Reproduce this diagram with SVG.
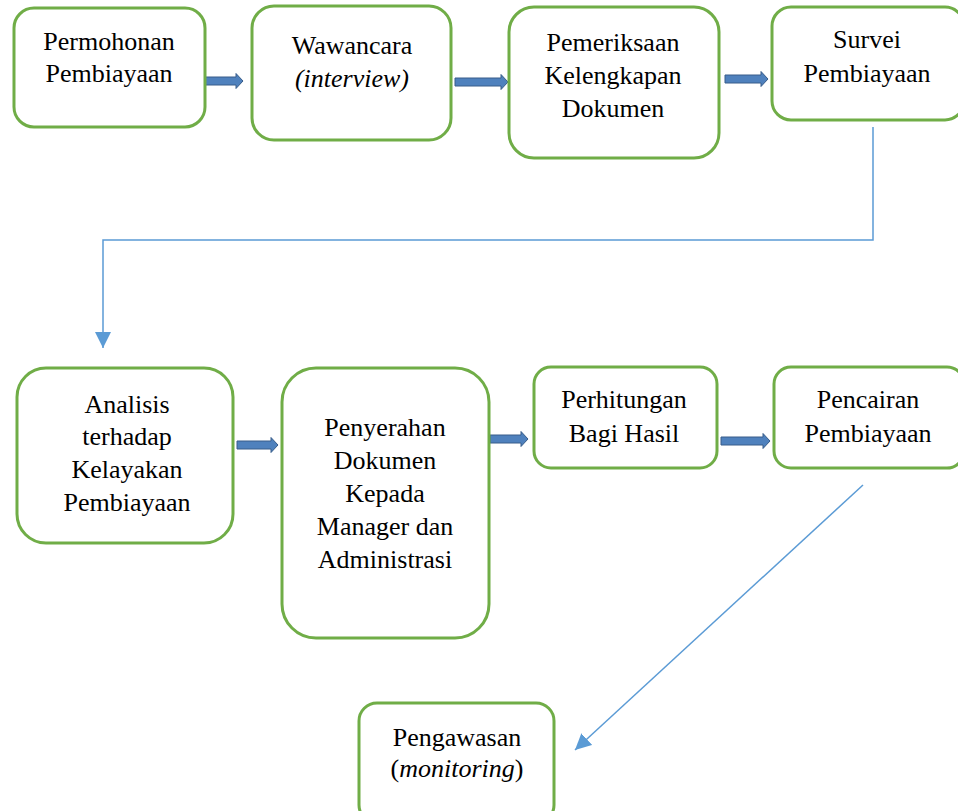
<svg xmlns="http://www.w3.org/2000/svg" width="958" height="811" viewBox="0 0 958 811">
<style>
.box{fill:#ffffff;stroke:#70ad47;stroke-width:3}
.t{font-family:"Liberation Serif","Times New Roman",serif;font-size:26px;fill:#000000;text-anchor:middle}
.i{font-style:italic}
.ba{fill:#4f81bd;stroke:#385d8a;stroke-width:1}
.conn{fill:none;stroke:#5b9bd5;stroke-width:1.5}
</style>
<defs>
<marker id="ah" markerUnits="userSpaceOnUse" markerWidth="16" markerHeight="16" viewBox="0 0 16 16" refX="16" refY="8" orient="auto">
<path d="M0,0 L16,8 L0,16 Z" fill="#5b9bd5"/>
</marker>
</defs>
<rect width="958" height="811" fill="#ffffff"/>
<g id="connectors">
<path class="ba" d="M201,77 L236,77 L236,73.5 L243,81 L236,88.5 L236,85 L201,85 Z"/>
<path class="ba" d="M455,78 L501,78 L501,74.5 L508,82 L501,89.5 L501,86 L455,86 Z"/>
<path class="ba" d="M725,75 L761,75 L761,71.5 L768,79 L761,86.5 L761,83 L725,83 Z"/>
<path class="ba" d="M237,441 L271,441 L271,437.5 L278,445 L271,452.5 L271,449 L237,449 Z"/>
<path class="ba" d="M490,435 L521,435 L521,431.5 L528,439 L521,446.5 L521,443 L490,443 Z"/>
<path class="ba" d="M721,437 L763,437 L763,433.5 L770,441 L763,448.5 L763,445 L721,445 Z"/>
<path class="conn" d="M873,127 L873,240 L103,240 L103,348" marker-end="url(#ah)"/>
<path class="conn" d="M863,485 L575,750" marker-end="url(#ah)"/>
</g>
<g id="n1">
<rect class="box" x="14" y="8" width="191" height="119" rx="20"/>
<text class="t" x="109" y="50">Permohonan</text>
<text class="t" x="109" y="82">Pembiayaan</text>
</g>
<g id="n2">
<rect class="box" x="252" y="6" width="199" height="134" rx="22"/>
<text class="t" x="352" y="54">Wawancara</text>
<text class="t i" x="352" y="87">(interview)</text>
</g>
<g id="n3">
<rect class="box" x="509" y="7" width="210" height="151" rx="25"/>
<text class="t" x="613" y="51">Pemeriksaan</text>
<text class="t" x="613" y="84">Kelengkapan</text>
<text class="t" x="613" y="117">Dokumen</text>
</g>
<g id="n4">
<rect class="box" x="772" y="7" width="192" height="113" rx="19"/>
<text class="t" x="867" y="48">Survei</text>
<text class="t" x="867" y="82">Pembiayaan</text>
</g>
<g id="n5">
<rect class="box" x="17" y="368" width="216" height="175" rx="29"/>
<text class="t" x="127" y="413">Analisis</text>
<text class="t" x="127" y="445">terhadap</text>
<text class="t" x="127" y="478">Kelayakan</text>
<text class="t" x="127" y="511">Pembiayaan</text>
</g>
<g id="n6">
<rect class="box" x="282" y="368" width="207" height="270" rx="34"/>
<text class="t" x="385" y="436">Penyerahan</text>
<text class="t" x="385" y="469">Dokumen</text>
<text class="t" x="385" y="502">Kepada</text>
<text class="t" x="385" y="535">Manager dan</text>
<text class="t" x="385" y="568">Administrasi</text>
</g>
<g id="n7">
<rect class="box" x="534" y="367" width="183" height="101" rx="17"/>
<text class="t" x="624" y="408">Perhitungan</text>
<text class="t" x="624" y="442">Bagi Hasil</text>
</g>
<g id="n8">
<rect class="box" x="774" y="367" width="190" height="101" rx="17"/>
<text class="t" x="868" y="408">Pencairan</text>
<text class="t" x="868" y="442">Pembiayaan</text>
</g>
<g id="n9">
<rect class="box" x="359" y="703" width="195" height="120" rx="18"/>
<text class="t" x="457" y="746">Pengawasan</text>
<text class="t" x="457" y="777">(<tspan class="i">monitoring</tspan>)</text>
</g>
</svg>
